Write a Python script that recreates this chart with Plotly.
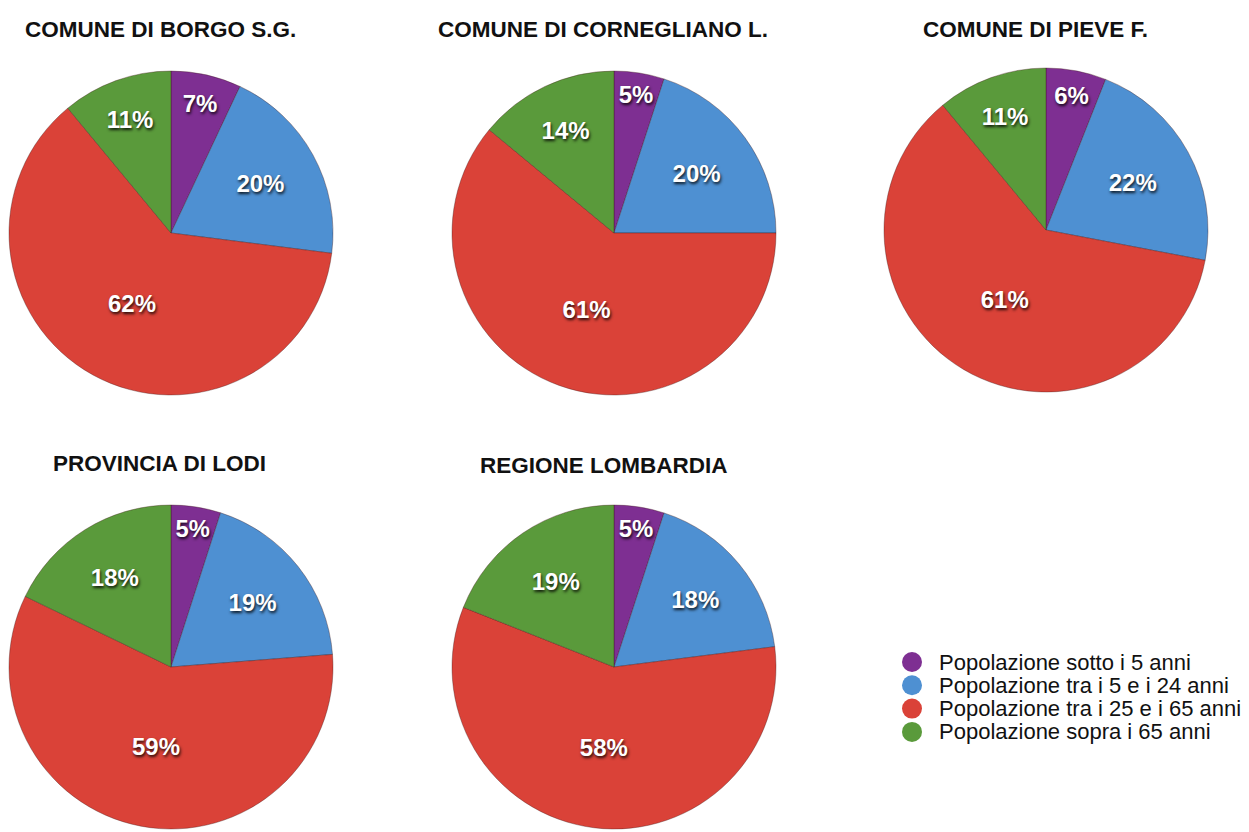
import plotly.graph_objects as go

# the page body adds an 8px margin, so the figure is sized to fit the window
OFF = 8
W, H = 1249 - OFF, 832 - OFF

categories = [
    "Popolazione sotto i 5 anni",
    "Popolazione tra i 5 e i 24 anni",
    "Popolazione tra i 25 e i 65 anni",
    "Popolazione sopra i 65 anni",
]
colors = ["#7E2F92", "#4E90D2", "#DA4238", "#5A9A3B"]

titles = [
    "COMUNE DI BORGO S.G.",
    "COMUNE DI CORNEGLIANO L.",
    "COMUNE DI PIEVE F.",
    "PROVINCIA DI LODI",
    "REGIONE LOMBARDIA",
]
borgo = [7, 20, 62, 11]
cornegliano = [5, 20, 61, 14]
pieve = [6, 22, 61, 11]
lodi = [5, 19, 59, 18]
lombardia = [5, 18, 58, 19]
series = [borgo, cornegliano, pieve, lodi, lombardia]

# layout in screen pixels: pie centre x, centre y, radius; title left x, title centre y
pie_px = [(171, 233, 162), (614, 233, 162), (1046, 230, 162), (171, 667, 162), (614, 667, 162)]
title_px = [(24, 30), (437, 30), (922, 30), (52, 463), (479, 465)]


def px_x(x):
    return (x - OFF) / W


def px_y(y):
    return 1 - (y - OFF) / H


fig = go.Figure()
for vals, (cx, cy, r) in zip(series, pie_px):
    fig.add_trace(go.Pie(
        labels=categories,
        values=vals,
        sort=False,
        direction="clockwise",
        rotation=0,
        marker=dict(colors=colors, line=dict(color="rgba(60,20,20,0.35)", width=1)),
        texttemplate="<b>%{value}%</b>",
        textposition="inside",
        insidetextorientation="horizontal",
        textfont=dict(family="Liberation Sans", size=24, color="white",
                      shadow="1px 2px 3px rgba(0,0,0,0.85)"),
        hoverinfo="label+value",
        showlegend=False,
        domain=dict(x=[max(0, px_x(cx - r)), min(1, px_x(cx + r))],
                    y=[max(0, px_y(cy + r)), min(1, px_y(cy - r))]),
    ))

for t, (tx, ty) in zip(titles, title_px):
    fig.add_annotation(
        text="<b>" + t + "</b>", x=px_x(tx), y=px_y(ty), xref="paper", yref="paper",
        xanchor="left", yanchor="middle", showarrow=False, borderpad=0,
        font=dict(family="Liberation Sans", size=22.5, color="#111111"),
    )

# legend drawn as coloured dots + labels
leg_dot_x, leg_text_x, leg_y0, leg_dy, dot_r = 912, 938, 662, 23.3, 10
for i, (name, col) in enumerate(zip(categories, colors)):
    yc = leg_y0 + i * leg_dy
    fig.add_shape(type="circle", xref="paper", yref="paper",
                  x0=px_x(leg_dot_x - dot_r), x1=px_x(leg_dot_x + dot_r),
                  y0=px_y(yc + dot_r), y1=px_y(yc - dot_r),
                  fillcolor=col, line=dict(width=0))
    fig.add_annotation(
        text=name, x=px_x(leg_text_x), y=px_y(yc), xref="paper", yref="paper",
        xanchor="left", yanchor="middle", showarrow=False, borderpad=0,
        font=dict(family="Liberation Sans", size=22, color="#111111"),
    )

fig.update_layout(
    width=W, height=H,
    margin=dict(l=0, r=0, t=0, b=0),
    paper_bgcolor="white", plot_bgcolor="white",
)

fig.write_html("out.html")
